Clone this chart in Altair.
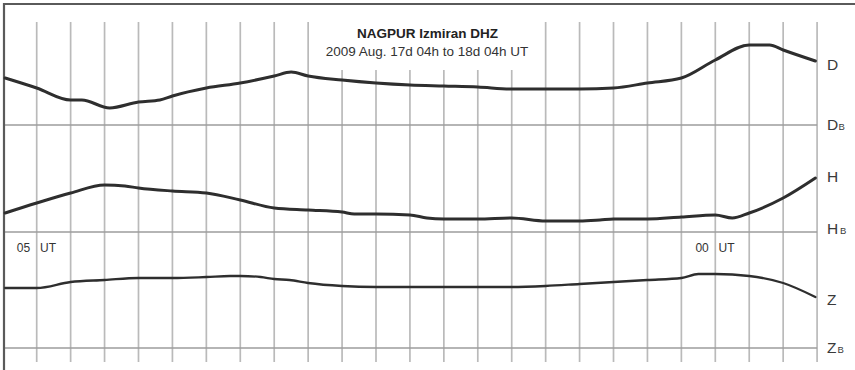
import altair as alt
import pandas as pd

# ---------------- data ----------------
# hours after 17d 04h UT; trace levels are in chart units above each baseline
D_hours = [0.07, 1, 2, 2.33, 3.15, 4, 4.63, 5, 6, 7, 8, 8.5, 9, 10, 11, 12, 13, 14,
           15, 16, 17, 18, 19, 20, 21, 22, 22.6, 23, 23.95]
D_vals = [47, 37, 25, 25, 17, 23, 25, 29, 37, 42, 49, 53, 49, 45, 42, 40, 39, 38,
          36, 36, 36, 37, 42, 47, 65, 80, 80, 75, 64]

H_hours = [0.07, 1, 2, 3, 3.6, 4, 5, 6, 7, 8, 9, 10, 10.36, 11, 12, 12.5, 13, 14,
           15, 16, 17, 17.6, 18, 19, 20, 21, 21.5, 22, 23, 23.95]
H_vals = [19, 29, 39, 47, 46, 44, 41, 39, 32, 24, 22, 20, 18, 18, 17, 14, 13, 13,
          14, 11, 11, 12, 13, 13, 15, 17, 14, 19, 34, 54]

Z_hours = [0.07, 1, 2, 3, 4, 5, 6, 6.7, 7, 7.6, 8, 8.45, 9, 10, 11, 12, 13, 14,
           15, 16, 17, 18, 19, 20, 20.5, 21, 22, 23, 23.95]
Z_vals = [60, 60, 66, 68, 70, 70, 71, 72, 72, 71, 69, 68, 65, 62, 61, 61, 61, 61,
          61, 62, 64, 66, 68, 70, 74, 74, 72, 65, 51]

components = ["D", "H", "Z"]
grid_hours = list(range(1, 25))
time_labels = [("05", 1), ("00", 21)]
title_text = "NAGPUR Izmiran DHZ"
subtitle_text = "2009 Aug. 17d 04h to 18d 04h UT"

# ---------------- layout ----------------
W, H = 855, 370
FONT = "Liberation Sans"
PX_PER_H = 33.93
X0 = 2.77
XS = alt.Scale(domain=[(0 - X0) / PX_PER_H, (W - X0) / PX_PER_H], nice=False, zero=False)
YS = alt.Scale(domain=[0, H], nice=False, zero=False)
BASE = {"D": 245, "H": 138, "Z": 22}
WIDTH = {"D": 3.0, "H": 3.0, "Z": 2.3}
INK = "#2e2e2e"


def hx(px):
    return (px - X0) / PX_PER_H


def X(f="h"):
    return alt.X(f"{f}:Q", scale=XS, axis=None)


def Y(f="y"):
    return alt.Y(f"{f}:Q", scale=YS, axis=None)


layers = []

# vertical hour lines
grid = pd.DataFrame({"h": grid_hours})
grid["y"] = 8
grid["y2"] = [300 if 10 <= h <= 15 else 348 for h in grid_hours]
layers.append(
    alt.Chart(grid).mark_rule(color="#bababa", strokeWidth=1.7)
    .encode(x=X(), y=Y(), y2="y2:Q")
)

# baselines
bl = pd.DataFrame({"c": components, "y": [BASE[c] for c in components]})
bl["h"] = hx(4)
bl["h2"] = 24.0
layers.append(
    alt.Chart(bl).mark_rule(color="#9c9c9c", strokeWidth=1.7)
    .encode(x=X(), x2="h2:Q", y=Y())
)

# frame (top and left)
layers.append(alt.Chart().mark_rule(color="#5a5a5a", strokeWidth=2.2)
              .encode(x=alt.value(3), x2=alt.value(W), y=alt.value(4)))
layers.append(alt.Chart().mark_rule(color="#5a5a5a", strokeWidth=2.2)
              .encode(x=alt.value(4), y=alt.value(3), y2=alt.value(H)))

# traces
for c, hs, vs in [("D", D_hours, D_vals), ("H", H_hours, H_vals), ("Z", Z_hours, Z_vals)]:
    df = pd.DataFrame({"h": hs, "v": vs})
    df["y"] = df["v"] + BASE[c]
    layers.append(
        alt.Chart(df).mark_line(color=INK, strokeWidth=WIDTH[c], strokeJoin="round",
                                strokeCap="round", interpolate="monotone")
        .encode(x=X(), y=Y())
    )

# right-hand labels
main_lbl = pd.DataFrame({
    "t": ["D", "D", "H", "H", "Z", "Z"],
    "h": hx(827),
    "y": [300, 240, 188, 136, 65, 17],
})
layers.append(
    alt.Chart(main_lbl).mark_text(font=FONT, fontSize=15.5, color="#3a3a3a",
                                  align="left", baseline="alphabetic")
    .encode(x=X(), y=Y(), text="t:N")
)
sub_lbl = pd.DataFrame({
    "t": ["B", "B", "B"],
    "h": [hx(838.5), hx(840), hx(837.5)],
    "y": [240, 136, 17],
})
layers.append(
    alt.Chart(sub_lbl).mark_text(font=FONT, fontSize=9.5, color="#3a3a3a",
                                 align="left", baseline="alphabetic")
    .encode(x=X(), y=Y(), text="t:N")
)

# time labels
tl_num = pd.DataFrame({"t": [t for t, _ in time_labels],
                       "h": [h - 6.5 / PX_PER_H for _, h in time_labels], "y": 118})
tl_ut = pd.DataFrame({"t": ["UT"] * len(time_labels),
                      "h": [h + 3.3 / PX_PER_H for _, h in time_labels], "y": 118})
layers.append(
    alt.Chart(tl_num).mark_text(font=FONT, fontSize=12, color="#333", align="right",
                                baseline="alphabetic")
    .encode(x=X(), y=Y(), text="t:N")
)
layers.append(
    alt.Chart(tl_ut).mark_text(font=FONT, fontSize=12, color="#333", align="left",
                               baseline="alphabetic")
    .encode(x=X(), y=Y(), text="t:N")
)

# title
tt = pd.DataFrame({"t": [title_text], "h": [hx(427.5)], "y": [332]})
layers.append(
    alt.Chart(tt).mark_text(font=FONT, fontSize=13.5, fontWeight="bold", color="#222",
                            align="center", baseline="alphabetic")
    .encode(x=X(), y=Y(), text="t:N")
)
st = pd.DataFrame({"t": [subtitle_text], "h": [hx(427)], "y": [314]})
layers.append(
    alt.Chart(st).mark_text(font=FONT, fontSize=13.5, color="#333",
                            align="center", baseline="alphabetic")
    .encode(x=X(), y=Y(), text="t:N")
)

chart = (
    alt.layer(*layers)
    .properties(width=W, height=H, padding=0,
                autosize=alt.AutoSizeParams(type="none"), background="white")
    .configure_view(stroke=None)
)

chart.save("out.html", embed_options={"renderer": "svg", "actions": False})
